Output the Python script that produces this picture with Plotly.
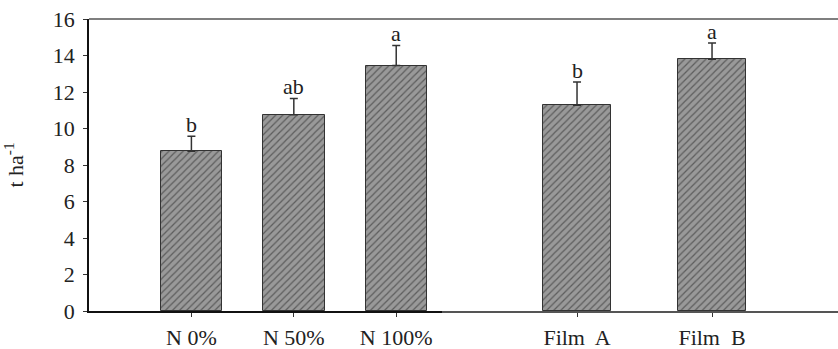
import plotly.graph_objects as go

n_cats = ["N 0%", "N 50%", "N 100%"]
n_vals = [8.75, 10.75, 13.45]
n_errs = [0.82, 0.9, 1.1]
n_letters = ["b", "ab", "a"]

f_cats = ["Film  A", "Film  B"]
f_vals = [11.28, 13.8]
f_errs = [1.27, 0.88]
f_letters = ["b", "a"]

y_ticks = [0, 2, 4, 6, 8, 10, 12, 14, 16]

FONT = "Liberation Serif"
FS = 22
bar_marker = dict(
    color="#999999",
    line=dict(color="#333333", width=1),
    pattern=dict(shape="/", fgcolor="#222222", bgcolor="#999999", size=5, solidity=0.25),
)
err_style = dict(type="data", symmetric=False, color="#333333", thickness=1.5, width=4)

fig = go.Figure()
fig.add_trace(go.Bar(
    x=n_cats, y=n_vals, width=0.6, marker=bar_marker,
    error_y=dict(err_style, array=n_errs, arrayminus=[0] * len(n_errs)),
    xaxis="x", yaxis="y", showlegend=False,
))
fig.add_trace(go.Bar(
    x=f_cats, y=f_vals, width=0.5, marker=bar_marker,
    error_y=dict(err_style, array=f_errs, arrayminus=[0] * len(f_errs)),
    xaxis="x2", yaxis="y", showlegend=False,
))

annotations = []
for c, v, e, t in zip(n_cats, n_vals, n_errs, n_letters):
    annotations.append(dict(x=c, y=v + e, xref="x", yref="y", text=t, showarrow=False,
                            yanchor="bottom", yshift=-3, font=dict(family=FONT, size=FS, color="#222")))
for c, v, e, t in zip(f_cats, f_vals, f_errs, f_letters):
    annotations.append(dict(x=c, y=v + e, xref="x2", yref="y", text=t, showarrow=False,
                            yanchor="bottom", yshift=-3, font=dict(family=FONT, size=FS, color="#222")))

split = 353 / 749
axis_common = dict(
    type="category", showgrid=False, zeroline=False, ticks="outside", ticklen=4,
    tickcolor="#333", tickfont=dict(family=FONT, size=FS, color="#222"), showline=True,
    ticklabelstandoff=2, automargin=False,
)
fig.update_layout(
    width=838, height=349,
    margin=dict(l=89, r=0, t=19, b=38),
    paper_bgcolor="white", plot_bgcolor="white",
    font=dict(family=FONT, size=FS, color="#222"),
    bargap=0,
    xaxis=dict(axis_common, domain=[0, split], range=[-1.0, 2.447], linecolor="#111", linewidth=1.5,
               anchor="y"),
    xaxis2=dict(axis_common, domain=[split, 1], range=[-1.0, 1.933], linecolor="#555", linewidth=1.5,
                anchor="y"),
    yaxis=dict(range=[0, 16], tickvals=y_ticks, showgrid=False, zeroline=False, showline=True,
               linecolor="#111", linewidth=1.5, ticks="outside", ticklen=4, tickcolor="#333",
               tickfont=dict(family=FONT, size=FS, color="#222"), automargin=False,
               ticklabelstandoff=4,
               title=dict(text="t ha<sup>-1</sup>", font=dict(family=FONT, size=FS, color="#222"), standoff=26)),
    annotations=annotations,
    shapes=[dict(type="line", xref="paper", yref="paper", x0=0, x1=1, y0=1, y1=1,
                 line=dict(color="#555", width=1.5))],
)

fig.write_html("out.html")
